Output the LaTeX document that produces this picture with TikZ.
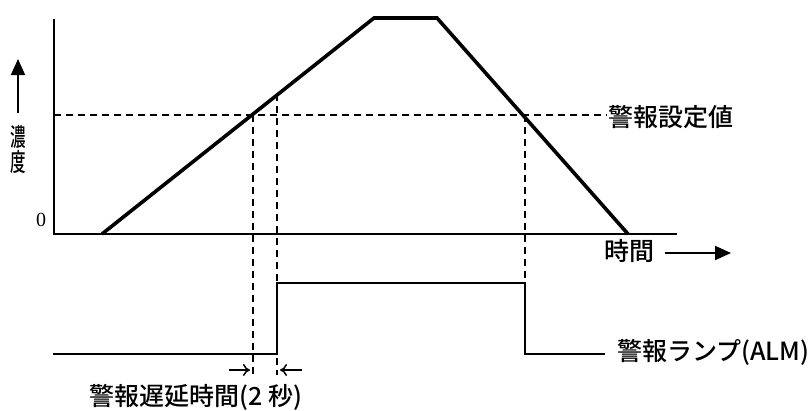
\documentclass[tikz,border=0pt]{standalone}
\usepackage{fontspec}
\newfontfamily\jp{Noto Sans CJK JP}[UprightFont={* Medium}]
\setmainfont{Liberation Serif}
\usetikzlibrary{arrows.meta}
\tikzset{
  thick line/.style={line width=3.6pt, line join=miter},
  axis line/.style={line width=2.6pt},
  dash line/.style={line width=1.6pt, dash pattern=on 7pt off 5pt},
  jplabel/.style={font=\jp\fontsize{25}{27}\selectfont, inner sep=0pt},
  bigarrow/.style={line width=2pt, -{Triangle[length=16pt,width=14pt]}},
  openarrow/.style={line width=1.5pt, -{To[length=7pt,width=12pt]}}
}
\begin{document}
\begin{tikzpicture}[x=1pt,y=-1pt]
\useasboundingbox (0,0) rectangle (810,410);
% key coordinates
\coordinate (ytop) at (54,19);
\coordinate (orig) at (54,234);
\coordinate (xend) at (677,234);
\coordinate (c0) at (102,234);
\coordinate (c1) at (374,18);
\coordinate (c2) at (437,18);
\coordinate (c3) at (628,234);
\coordinate (thL) at (54,115);
\coordinate (thR) at (607,115);
\coordinate (p1) at (253,115);
\coordinate (p1b) at (253,375);
\coordinate (p2) at (277,94);
\coordinate (p2b) at (277,375);
\coordinate (p3) at (525,115);
\coordinate (p3b) at (525,283);
\coordinate (a0) at (53,354);
\coordinate (a1) at (277,354);
\coordinate (a2) at (277,283);
\coordinate (a3) at (525,283);
\coordinate (a4) at (525,354);
\coordinate (a5) at (605,354);
% labels
\node[font=\jp\fontsize{25}{25}\selectfont, inner sep=0pt, align=center] (conc) at (18,150) {\scalebox{0.62}[1]{濃}\\\scalebox{0.62}[1]{度}};
\coordinate (upS) at (18,113);
\coordinate (upE) at (18,59);
\draw[bigarrow] (upS) -- (upE);
\node[font=\fontsize{20}{22}\selectfont, inner sep=0pt] (zero) at (41,220) {0};
\node[jplabel] (time) at (629,251) {時間};
\coordinate (tS) at (665,253);
\coordinate (tE) at (731,253);
\draw[bigarrow] (tS) -- (tE);
\node[jplabel, anchor=west] (thlab) at (608,117) {警報設定値};
\node[jplabel, anchor=west] (alm) at (617,352) {警報ランプ(ALM)};
\node[jplabel] (delay) at (196,397) {警報遅延時間(2 秒)};
% axes
\draw[axis line] (ytop) -- (orig) -- (xend);
% threshold
\draw[dash line] (thL) -- (thR);
\draw[dash line] (p1) -- (p1b);
\draw[dash line] (p2) -- (p2b);
\draw[dash line] (p3) -- (p3b);
% concentration curve
\draw[thick line] (c0) -- (c1) -- (c2) -- (c3);
% alarm signal
\draw[line width=2.8pt, line join=miter] (a0) -- (a1) -- (a2) -- (a3) -- (a4) -- (a5);
% delay arrows
\coordinate (dlS) at (229,370);
\coordinate (dlE) at (250,370);
\coordinate (drS) at (302,370);
\coordinate (drE) at (280,370);
\draw[openarrow] (dlS) -- (dlE);
\draw[openarrow] (drS) -- (drE);
\end{tikzpicture}
\end{document}
